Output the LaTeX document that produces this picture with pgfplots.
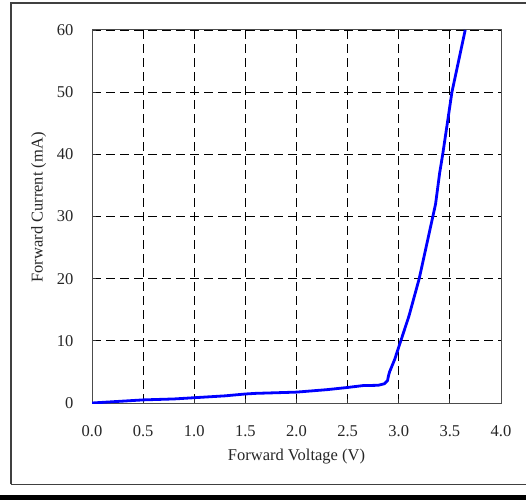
\documentclass[border=0pt]{standalone}
\usepackage{fontspec}
\setmainfont{Liberation Serif}
\usepackage{pgfplots}
\pgfplotsset{compat=1.18}
\begin{document}
\begin{tikzpicture}[x=1pt,y=1pt]
\useasboundingbox (0,0) rectangle (526,500);
\fill[black] (0,0) rectangle (530,5.5);
\draw[line width=1.3pt, black!75] (11,15.7) -- (11,497) -- (540,497);
\draw[line width=1.3pt, black!75] (11,15.7) -- (540,15.7);
\begin{axis}[
  at={(92pt,97pt)}, anchor=south west,
  scale only axis, width=409pt, height=373pt,
  xmin=0, xmax=4, ymin=0, ymax=60,
  xtick={0,0.5,...,4}, ytick={0,10,...,60},
  xticklabel style={yshift=-19pt, /pgf/number format/fixed, /pgf/number format/fixed zerofill, /pgf/number format/precision=1, /pgf/number format/assume math mode=true},
  yticklabel style={xshift=-15pt, /pgf/number format/assume math mode=true},
  ticklabel style={font=\fontsize{16.5}{19}\selectfont, text=black!85},
  label style={font=\fontsize{16.5}{19}\selectfont, text=black!85},
  xlabel={Forward Voltage (V)},
  ylabel={Forward Current (mA)},
  xlabel style={yshift=-5pt},
  ylabel style={yshift=4pt, xshift=9pt},
  grid=major,
  major grid style={black, line width=0.9pt, dash pattern=on 9pt off 5pt},
  tick align=inside, major tick length=4pt,
  tick style={black!80, line width=0.9pt},
  axis line style={line width=1pt, black!70},
  xtick pos=bottom, ytick pos=left,
]
\addplot[color={rgb,255:red,0;green,0;blue,255}, line width=2.8pt, line join=round] coordinates {
(0,0) (0.2,0.2) (0.5,0.5) (0.8,0.65) (1.0,0.85) (1.3,1.15) (1.5,1.45) (1.6,1.55)
(2.0,1.75) (2.3,2.15) (2.5,2.5) (2.65,2.8) (2.8,2.85) (2.86,3.1) (2.89,3.6)
(2.9,4.4) (2.91,5.0) (2.96,7.0) (3.0,9.0) (3.02,10) (3.1,14) (3.2,20) (3.28,26)
(3.36,32) (3.4,37) (3.43,40) (3.52,50) (3.65,60)
};
\end{axis}
\end{tikzpicture}
\end{document}
